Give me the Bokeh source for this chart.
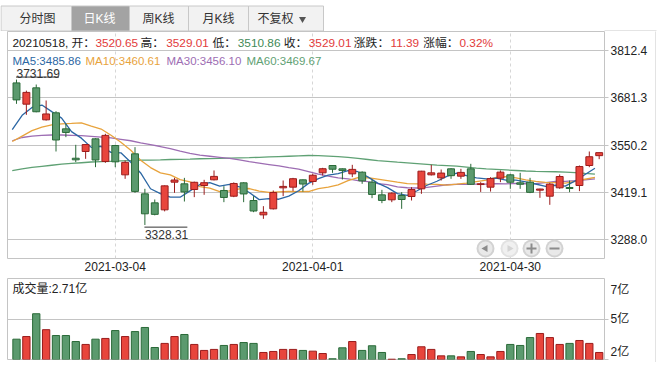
import math
from bokeh.plotting import figure
from bokeh.layouts import column, row
from bokeh.models import Range1d, FixedTicker, LinearAxis, Label, ColumnDataSource, NumeralTickFormatter
from bokeh.core.properties import value
from bokeh.embed import file_html
from bokeh.resources import INLINE

# ---------------- data ----------------
dates = ["2021-02-18", "2021-02-19", "2021-02-22", "2021-02-23", "2021-02-24", "2021-02-25", "2021-02-26",
         "2021-03-01", "2021-03-02", "2021-03-03", "2021-03-04", "2021-03-05", "2021-03-08", "2021-03-09",
         "2021-03-10", "2021-03-11", "2021-03-12", "2021-03-15", "2021-03-16", "2021-03-17", "2021-03-18",
         "2021-03-19", "2021-03-22", "2021-03-23", "2021-03-24", "2021-03-25", "2021-03-26", "2021-03-29",
         "2021-03-30", "2021-03-31", "2021-04-01", "2021-04-02", "2021-04-06", "2021-04-07", "2021-04-08",
         "2021-04-09", "2021-04-12", "2021-04-13", "2021-04-14", "2021-04-15", "2021-04-16", "2021-04-19",
         "2021-04-20", "2021-04-21", "2021-04-22", "2021-04-23", "2021-04-26", "2021-04-27", "2021-04-28",
         "2021-04-29", "2021-04-30", "2021-05-06", "2021-05-07", "2021-05-10", "2021-05-11", "2021-05-12",
         "2021-05-13", "2021-05-14", "2021-05-17", "2021-05-18"]

opens = [3722.5, 3663.5, 3708.8, 3620.0, 3639.5, 3595.0, 3513.5, 3532.2, 3567.3, 3504.4,
         3548.8, 3467.4, 3525.7, 3414.7, 3389.7, 3370.3, 3447.1, 3442.5, 3426.7, 3437.8,
         3453.6, 3424.0, 3408.2, 3445.2, 3396.2, 3356.4, 3373.1, 3431.4, 3433.2, 3453.6,
         3448.9, 3473.0, 3493.3, 3484.1, 3470.2, 3474.8, 3447.1, 3411.9, 3398.1, 3410.0,
         3407.3, 3428.6, 3467.4, 3459.1, 3484.1, 3463.7, 3484.1, 3440.5, 3433.2, 3458.2,
         3467.4, 3445.2, 3447.1, 3424.9, 3408.2, 3431.4, 3432.3, 3437.8, 3493.3, 3520.65]
highs = [3731.69, 3701.0, 3718.0, 3673.7, 3644.0, 3609.0, 3550.7, 3552.0, 3569.0, 3581.2,
         3550.7, 3507.0, 3544.2, 3428.6, 3399.0, 3438.0, 3459.1, 3459.0, 3448.5, 3453.6,
         3479.5, 3436.0, 3446.5, 3447.0, 3408.2, 3380.5, 3424.0, 3451.7, 3459.0, 3454.5,
         3470.2, 3486.9, 3494.5, 3485.0, 3495.2, 3477.0, 3453.6, 3425.8, 3419.0, 3419.4,
         3433.2, 3478.5, 3495.2, 3482.2, 3486.0, 3484.1, 3498.0, 3447.0, 3461.0, 3479.5,
         3470.2, 3473.0, 3459.1, 3429.0, 3445.2, 3468.4, 3451.7, 3493.3, 3532.2, 3529.01]
lows = [3664.4, 3633.9, 3641.0, 3618.0, 3532.2, 3572.0, 3502.6, 3511.8, 3488.7, 3500.7,
        3488.7, 3456.3, 3417.5, 3328.31, 3355.0, 3366.0, 3417.5, 3393.4, 3405.5, 3412.0,
        3452.0, 3391.6, 3405.5, 3391.6, 3363.8, 3345.3, 3371.2, 3408.2, 3422.1, 3421.0,
        3439.7, 3465.6, 3473.0, 3454.5, 3461.0, 3442.5, 3402.7, 3388.8, 3391.6, 3373.1,
        3396.2, 3414.7, 3465.6, 3451.7, 3456.3, 3456.3, 3439.7, 3420.0, 3421.0, 3447.1,
        3428.6, 3428.6, 3416.6, 3403.6, 3384.2, 3428.6, 3419.4, 3422.1, 3488.7, 3510.86]
closes = [3675.36, 3696.17, 3642.44, 3636.36, 3564.08, 3585.05, 3509.08, 3551.40, 3508.59, 3576.90,
          3503.49, 3501.99, 3421.41, 3359.29, 3357.74, 3436.83, 3453.08, 3419.95, 3446.73, 3445.55,
          3463.07, 3404.66, 3443.44, 3414.41, 3367.06, 3363.59, 3418.33, 3435.30, 3456.68, 3441.91,
          3466.33, 3484.39, 3482.97, 3479.63, 3482.55, 3450.68, 3412.95, 3396.47, 3416.60, 3398.99,
          3426.62, 3477.55, 3472.94, 3472.31, 3465.11, 3474.17, 3441.17, 3442.61, 3457.07, 3474.90,
          3446.86, 3441.28, 3418.87, 3427.99, 3441.85, 3462.75, 3429.54, 3490.38, 3517.62, 3529.01]
volumes = [3.62, 3.80, 5.36, 4.27, 3.87, 3.87, 3.46, 3.26, 3.62, 3.67,
           4.21, 3.80, 4.14, 4.42, 3.05, 3.33, 3.80, 3.94, 3.26, 2.85,
           2.92, 3.19, 3.26, 3.39, 3.33, 2.71, 2.78, 2.92, 2.92, 2.85,
           2.80, 2.64, 2.28, 3.03, 3.46, 2.85, 3.17, 2.71, 2.25, 2.28,
           2.57, 3.10, 2.92, 2.48, 2.48, 2.41, 2.78, 2.57, 2.41, 2.78,
           3.26, 3.19, 3.73, 4.01, 3.73, 3.26, 3.33, 3.53, 3.33, 2.71]
ma5 = [3592.60, 3632.56, 3654.51, 3661.08, 3642.88, 3624.82, 3587.40, 3569.19, 3543.64, 3546.20,
       3529.89, 3528.47, 3502.48, 3472.62, 3428.78, 3415.45, 3405.67, 3405.38, 3422.87, 3440.43,
       3445.68, 3435.99, 3440.69, 3434.23, 3418.53, 3398.63, 3401.37, 3399.74, 3408.19, 3423.16,
       3443.71, 3456.92, 3466.46, 3471.05, 3479.17, 3476.04, 3461.76, 3444.46, 3431.85, 3415.14,
       3410.33, 3423.25, 3438.54, 3449.68, 3462.91, 3472.42, 3465.14, 3459.07, 3456.03, 3457.98,
       3452.52, 3452.54, 3447.80, 3441.98, 3435.37, 3438.55, 3436.20, 3450.50, 3468.43, 3485.86]
ma10 = [3560.0, 3575.0, 3590.0, 3600.0, 3606.0, 3608.71, 3609.98, 3611.85, 3602.36, 3594.54,
        3577.36, 3557.94, 3535.84, 3508.13, 3487.49, 3472.67, 3467.07, 3453.93, 3447.74, 3434.61,
        3430.56, 3420.83, 3423.03, 3428.55, 3429.48, 3422.15, 3418.68, 3420.21, 3421.21, 3420.85,
        3421.17, 3429.14, 3433.10, 3439.62, 3451.17, 3459.88, 3459.34, 3455.46, 3451.45, 3447.16,
        3443.19, 3442.50, 3441.50, 3440.77, 3439.02, 3441.37, 3444.19, 3448.81, 3452.85, 3460.45,
        3462.47, 3458.84, 3453.44, 3449.00, 3446.68, 3445.54, 3444.37, 3449.15, 3455.20, 3460.61]
ma30 = [3562.0, 3571.0, 3575.0, 3577.0, 3578.0, 3578.0, 3577.0, 3576.0, 3574.0, 3572.0,
        3570.0, 3566.0, 3562.0, 3556.0, 3551.0, 3546.0, 3540.0, 3533.0, 3527.0, 3522.0,
        3519.0, 3516.0, 3513.0, 3509.0, 3504.0, 3500.0, 3496.0, 3492.0, 3487.5, 3483.33,
        3476.36, 3469.30, 3463.99, 3458.76, 3456.05, 3451.57, 3448.36, 3443.20, 3440.13, 3434.20,
        3431.64, 3430.83, 3432.54, 3436.31, 3439.89, 3441.13, 3440.74, 3441.49, 3441.84, 3442.82,
        3442.28, 3443.50, 3442.68, 3443.13, 3445.62, 3448.93, 3449.30, 3451.14, 3453.17, 3456.10]
ma60 = [3479.0, 3484.0, 3488.0, 3491.0, 3494.0, 3497.0, 3499.0, 3501.0, 3503.0, 3504.0,
        3505.0, 3506.0, 3507.0, 3508.0, 3508.5, 3509.0, 3510.0, 3510.5, 3511.0, 3512.0,
        3512.5, 3513.0, 3514.0, 3514.5, 3515.0, 3516.0, 3517.0, 3518.0, 3519.0, 3520.0,
        3521.0, 3520.5, 3519.5, 3518.0, 3516.0, 3513.0, 3510.0, 3507.0, 3505.0, 3502.5,
        3500.5, 3498.5, 3496.5, 3494.5, 3493.0, 3491.5, 3489.0, 3486.0, 3484.0, 3482.5,
        3481.0, 3479.5, 3478.0, 3477.0, 3476.5, 3476.0, 3475.0, 3473.5, 3471.5, 3469.67]

price_ticks = [3288.0, 3419.1, 3550.2, 3681.3, 3812.4]
date_tick_labels = ["2021-03-04", "2021-04-01", "2021-04-30"]
vol_tick_values = [2.71, 5.0, 7.0]
vol_tick_labels = ["2亿", "5亿", "7亿"]
tab_labels = ["分时图", "日K线", "周K线", "月K线", "不复权"]

# ---------------- styles ----------------
FONT = "Liberation Sans, Noto Sans CJK SC"
RED, RED_EDGE = "#e8453c", "#9a1c1c"
GRN, GRN_EDGE = "#5b9a6e", "#2a6a38"
TXT = "#222222"
RED_T, GRN_T = "#e23b3b", "#3f8a57"
MA_COLORS = ["#2c67a4", "#e8a33c", "#9d6db3", "#5fa174"]
GRID = "#c4c4c4"
BOX = "#c8c8c8"
W = 655
FRAME_L, FRAME_R = 7, 604
P_TOP, P_BOT = 31, 258
Y_TOP, Y_BOT = 3865.12, 3235.28

idx = list(range(len(dates)))
up = [c >= o for o, c in zip(opens, closes)]
src = ColumnDataSource(dict(
    x=idx, o=opens, h=highs, l=lows, c=closes,
    top=[max(o, c) for o, c in zip(opens, closes)],
    bot=[min(o, c) for o, c in zip(opens, closes)],
    fill=[RED if u else GRN for u in up],
    edge=[RED_EDGE if u else GRN_EDGE for u in up],
    vol=volumes,
))

x_range = Range1d(-0.911, 59.538)

# ---------------- tabs ----------------
t = figure(width=661, height=31, x_range=Range1d(0, 661), y_range=Range1d(31, 0),
           output_backend="svg", toolbar_location=None, min_border=0,
           x_axis_location=None, y_axis_location=None)
t.grid.visible = False
t.outline_line_color = None
tab_left = [0.5, 71, 129, 188, 248]
tab_right = [71, 129, 188, 248, 323]
tab_cx = [37, 99, 158, 218, 275]
sel = 1
t.quad(left=tab_left, right=tab_right, top=5.5, bottom=30.5,
       fill_color=["#a3a3a3" if i == sel else "#f2f2f2" for i in range(5)],
       line_color=BOX, line_width=1)
t.text(x=tab_cx, y=18.5, text=tab_labels, text_align="center", text_baseline="middle",
       text_color=["#ffffff" if i == sel else "#333333" for i in range(5)],
       text_font=value(FONT), text_font_size="12px")
t.scatter(x=[302], y=[18.5], marker="inverted_triangle", size=7, fill_color="#555555", line_color=None)
t.segment(x0=[604], y0=[30.5], x1=[656], y1=[30.5], line_color=BOX, line_width=1)

# ---------------- price ----------------
p = figure(width=W, height=247, x_range=x_range, y_range=Range1d(Y_BOT, Y_TOP),
           output_backend="svg", toolbar_location=None,
           min_border_left=FRAME_L, min_border_right=W - FRAME_R, min_border_top=0, min_border_bottom=20,
           y_axis_location="right")
p.outline_line_color = GRID
p.background_fill_color = "white"

p.yaxis.ticker = FixedTicker(ticks=price_ticks)
p.yaxis.formatter = NumeralTickFormatter(format="0.0")
p.yaxis.axis_line_color = None
p.yaxis.major_tick_out = 4
p.yaxis.major_tick_in = 0
p.yaxis.minor_tick_out = 0
p.yaxis.minor_tick_in = 0
p.yaxis.major_tick_line_color = GRID
p.yaxis.major_label_standoff = 2
p.yaxis.major_label_text_font = FONT
p.yaxis.major_label_text_font_size = "12px"
p.yaxis.major_label_text_color = TXT
p.ygrid.grid_line_color = GRID

date_ticks = [dates.index(d) for d in date_tick_labels]
p.xaxis.ticker = FixedTicker(ticks=date_ticks)
p.xaxis.major_label_overrides = {i: d for i, d in zip(date_ticks, date_tick_labels)}
p.xaxis.axis_line_color = None
p.xaxis.major_tick_out = 0
p.xaxis.major_tick_in = 0
p.xaxis.minor_tick_out = 0
p.xaxis.minor_tick_in = 0
p.xaxis.major_label_standoff = 3
p.xaxis.major_label_text_font = FONT
p.xaxis.major_label_text_font_size = "12px"
p.xaxis.major_label_text_color = TXT
p.xgrid.grid_line_color = "#d6d6d6"
p.xgrid.grid_line_dash = "3 3"

ma_x = [i - 0.43 for i in idx]
for ma, col in zip([ma60, ma30, ma10, ma5], [MA_COLORS[3], MA_COLORS[2], MA_COLORS[1], MA_COLORS[0]]):
    p.line(x=ma_x, y=ma, line_color=col, line_width=1.3)

p.segment(x0="x", y0="h", x1="x", y1="l", line_color="edge", line_width=1, source=src)
p.vbar(x="x", width=0.7, top="top", bottom="bot", fill_color="fill", line_color="edge",
       line_width=1, source=src)

# max / min annotations
i_hi = max(idx, key=lambda i: highs[i])
i_lo = min(idx, key=lambda i: lows[i])
p.segment(x0=[i_hi - 0.05, i_lo - 0.05], y0=[highs[i_hi] + 7, lows[i_lo] - 6],
          x1=[i_hi + 4.3, i_lo + 4.3], y1=[highs[i_hi] + 7, lows[i_lo] - 6],
          line_color="#333333", line_width=1)
p.text(x=[i_hi], y=[highs[i_hi] + 7], text=["%.2f" % highs[i_hi]], text_baseline="bottom",
       text_align="left", text_color="#333333", text_font=value(FONT), text_font_size="12px",
       y_offset=1)
p.text(x=[i_lo], y=[lows[i_lo] - 6], text=["%.2f" % lows[i_lo]], text_baseline="top",
       text_align="left", text_color="#333333", text_font=value(FONT), text_font_size="12px",
       y_offset=3)

# navigation buttons (chrome)
def px_to_x(px):
    return x_range.start + (px - FRAME_L) / float(FRAME_R - FRAME_L) * (x_range.end - x_range.start)

def py_to_y(py):
    return Y_TOP - (py - P_TOP) / float(P_BOT - P_TOP) * (Y_TOP - Y_BOT)

bx = [px_to_x(v) for v in [485, 509, 531, 554]]
by = [py_to_y(248)] * 4
p.scatter(x=bx, y=by, size=18, fill_color=["#d2d2d2", "#e2e2e2", "#d2d2d2", "#d2d2d2"], line_color=None)
p.scatter(x=bx, y=by, size=14, fill_color=["#e9e9e9", "#f0f0f0", "#e9e9e9", "#e9e9e9"], line_color=None)
p.scatter(x=[bx[0]], y=[by[0]], marker="triangle", angle=math.pi / 2, size=7, fill_color="#8c8c8c", line_color=None)
p.scatter(x=[bx[1]], y=[by[1]], marker="triangle", angle=-math.pi / 2, size=7, fill_color="#d4d4d4", line_color=None)
p.scatter(x=[bx[2]], y=[by[2]], marker="cross", size=10, line_color="#8c8c8c", line_width=2)
p.scatter(x=[bx[3]], y=[by[3]], marker="dash", size=10, line_color="#8c8c8c", line_width=2)

# info row
last = len(closes) - 1
chg = closes[last] - closes[last - 1]
pct = chg / closes[last - 1] * 100
info = [
    (dates[last].replace("-", "") + ", 开：", 12, TXT),
    ("%.2f" % opens[last], 95, RED_T),
    ("高：", 140, TXT),
    ("%.2f" % highs[last], 165.7, RED_T),
    ("低：", 212, TXT),
    ("%.2f" % lows[last], 237.3, GRN_T),
    ("收：", 283.3, TXT),
    ("%.2f" % closes[last], 308.3, RED_T),
    ("涨跌：", 353.3, TXT),
    ("%.2f" % chg, 390, RED_T),
    ("涨幅：", 422.7, TXT),
    ("%.2f%%" % pct, 459, RED_T),
]
for txt, px, col in info:
    p.add_layout(Label(x=px - FRAME_L, y=P_BOT - 42, x_units="screen", y_units="screen", text=txt,
                       text_color=col, text_font=FONT, text_font_size="11.8px",
                       text_baseline="middle", text_align="left"))
ma_labels = [("MA5:%.2f" % ma5[last], 12), ("MA10:%.2f" % ma10[last], 85),
             ("MA30:%.2f" % ma30[last], 166), ("MA60:%.2f" % ma60[last], 246)]
for (txt, px), col in zip(ma_labels, MA_COLORS):
    p.add_layout(Label(x=px - FRAME_L, y=P_BOT - 60, x_units="screen", y_units="screen", text=txt,
                       text_color=col, text_font=FONT, text_font_size="11.5px",
                       text_baseline="middle", text_align="left"))

# ---------------- volume ----------------
V_TOP, V_BOT = 278, 359
v = figure(width=W, height=92, x_range=x_range, y_range=Range1d(2.23, 7.77),
           output_backend="svg", toolbar_location=None,
           min_border_left=FRAME_L, min_border_right=W - FRAME_R, min_border_top=0,
           min_border_bottom=370 - V_BOT,
           x_axis_location=None, y_axis_location="right")
v.outline_line_color = GRID
v.xgrid.visible = False
v.yaxis.ticker = FixedTicker(ticks=[2.23, 5.0])
v.yaxis.major_label_overrides = {2.23: "", 5.0: ""}
v.yaxis.major_label_standoff = 0
v.yaxis.axis_line_color = None
v.yaxis.major_tick_out = 4
v.yaxis.major_tick_in = 0
v.yaxis.minor_tick_out = 0
v.yaxis.minor_tick_in = 0
v.yaxis.major_tick_line_color = GRID
v.ygrid.grid_line_color = GRID
lab_axis = LinearAxis(ticker=FixedTicker(ticks=vol_tick_values),
                      major_label_overrides={tv: tl for tv, tl in zip(vol_tick_values, vol_tick_labels)},
                      axis_line_color=None, major_tick_out=0, major_tick_in=0,
                      minor_tick_out=0, minor_tick_in=0, major_label_standoff=2,
                      major_label_text_font=FONT, major_label_text_font_size="12px",
                      major_label_text_color=TXT)
v.add_layout(lab_axis, "right")
v.vbar(x="x", width=0.74, top="vol", bottom=0, fill_color="fill", line_color="edge",
       line_width=1, source=src)
v.add_layout(Label(x=12 - FRAME_L, y=V_BOT - 288, x_units="screen", y_units="screen",
                   text="成交量:%.2f亿" % volumes[last], text_color=TXT, text_font=FONT,
                   text_font_size="12px", text_baseline="middle", text_align="left"))

# outer right border of the chart box (chrome)
vline = figure(width=1, height=331, output_backend="svg", toolbar_location=None, min_border=0,
               x_axis_location=None, y_axis_location=None,
               background_fill_color=BOX, border_fill_color=BOX)
vline.outline_line_color = None
vline.grid.visible = False

layout = column(t, row(column(p, v, spacing=0), vline, spacing=0), spacing=0)
open("out.html", "w").write(file_html(layout, INLINE))
